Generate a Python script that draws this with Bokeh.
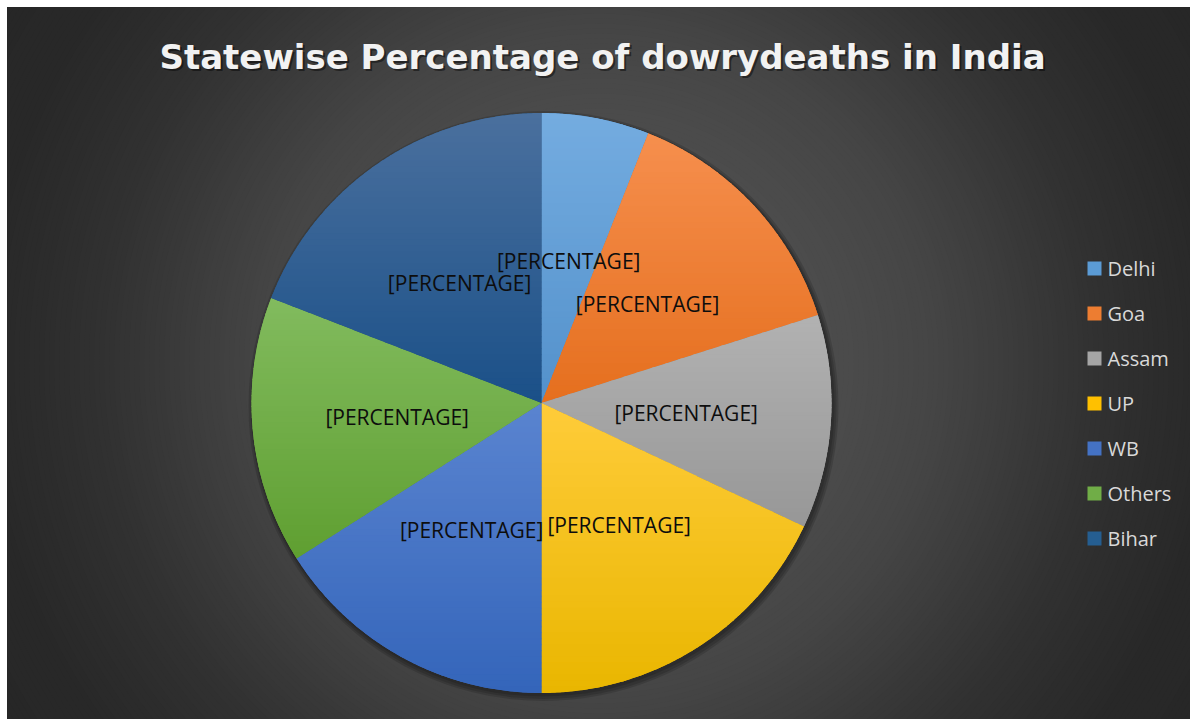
import numpy as np
from bokeh.plotting import figure
from bokeh.models import Range1d, ColumnDataSource
from bokeh.core.properties import value
from bokeh.embed import file_html
from bokeh.resources import INLINE

# ---- data -------------------------------------------------------------
title_text = "Statewise Percentage of dowrydeaths in India"
states = ["Delhi", "Goa", "Assam", "UP", "WB", "Others", "Bihar"]
shares = [6.0, 14.1, 11.9, 18.0, 16.0, 14.9, 19.1]
label_text = "[PERCENTAGE]"

# ---- styling ----------------------------------------------------------
base_colors = ["#5B9BD5", "#ED7D31", "#A5A5A5", "#FFC000", "#4472C4", "#70AD47", "#255E91"]
top_colors = ["#74ACE0", "#F68F4E", "#B2B2B2", "#FFCC3A", "#5A84D0", "#82BB5E", "#4A709E"]
bottom_colors = ["#5391CB", "#E56F1E", "#979797", "#E9B600", "#3465BA", "#5F9F31", "#1B5088"]

W, H = 1190, 719
PAD = 7
CX, CY, R = 541.0, -402.5, 290.0


def hex_to_rgb(h):
    h = h.lstrip("#")
    return np.array([int(h[i:i + 2], 16) for i in (0, 2, 4)], dtype=float)


def rgb_to_hex(c):
    c = np.clip(np.round(c), 0, 255).astype(int)
    return "#%02x%02x%02x" % tuple(c)


def clip_half(poly, y0, keep_above):
    out = []
    n = len(poly)
    for i in range(n):
        p, q = poly[i], poly[(i + 1) % n]
        in_p = p[1] >= y0 if keep_above else p[1] <= y0
        in_q = q[1] >= y0 if keep_above else q[1] <= y0
        if in_p:
            out.append(p)
        if in_p != in_q:
            t = (y0 - p[1]) / (q[1] - p[1])
            out.append((p[0] + t * (q[0] - p[0]), y0))
    return out


p = figure(width=W, height=H, output_backend="svg", toolbar_location=None,
           x_range=Range1d(PAD, W), y_range=Range1d(-H, -PAD),
           x_axis_type=None, y_axis_type=None,
           min_border_left=PAD, min_border_top=PAD,
           min_border_right=0, min_border_bottom=0)
p.grid.visible = False
p.outline_line_color = None
p.border_fill_color = "white"
p.background_fill_color = "#262626"

# ---- radial background --------------------------------------------------
gx, gy = (PAD + W) / 2.0, -(PAD + H) / 2.0
stops_d = [0, 250, 340, 500, 620, 800]
stops_v = [0x54, 0x4b, 0x45, 0x31, 0x28, 0x26]
radii = np.arange(800, 0, -5.0)
shades = [rgb_to_hex(np.array([np.interp(r, stops_d, stops_v)] * 3)) for r in radii]
bg = ColumnDataSource(dict(x=[gx] * len(radii), y=[gy] * len(radii), r=radii, c=shades))
p.circle(x="x", y="y", radius="r", fill_color="c", line_color=None, source=bg)

# ---- soft shadow under the pie -----------------------------------------
p.circle(x=[CX + 2, CX + 2, CX + 1.5], y=[CY - 3, CY - 3, CY - 2], radius=[R + 5, R + 3, R + 1.5],
         fill_color="black", fill_alpha=0.14, line_color=None)

# ---- pie slices ---------------------------------------------------------
frac = np.array(shares) / np.sum(shares)
ends = np.cumsum(frac) * 2 * np.pi      # clockwise from 12 o'clock
starts = ends - frac * 2 * np.pi

pie = ColumnDataSource(dict(state=states, color=base_colors,
                            start=np.pi / 2 - starts, end=np.pi / 2 - ends))
p.wedge(x=CX, y=CY, radius=R, start_angle="start", end_angle="end",
        direction="clock", fill_color="color", line_color=None, source=pie)

# vertical gradient over each slice
xs, ys, cs = [], [], []
N = 48
for a0, a1, ct, cb in zip(starts, ends, top_colors, bottom_colors):
    th = np.linspace(a0, a1, max(8, int(np.degrees(a1 - a0) * 3)))
    poly = [(CX, CY)] + [(CX + R * np.sin(t), CY + R * np.cos(t)) for t in th]
    ymin = min(pt[1] for pt in poly)
    ymax = max(pt[1] for pt in poly)
    h = (ymax - ymin) / N
    top, bot = hex_to_rgb(ct), hex_to_rgb(cb)
    for k in range(N):
        yh = ymax - k * h + 0.6
        yl = ymax - (k + 1) * h - 0.6
        band = clip_half(clip_half(poly, yl, True), yh, False)
        if len(band) < 3:
            continue
        t = (k + 0.5) / N
        xs.append([b[0] for b in band])
        ys.append([b[1] for b in band])
        cs.append(rgb_to_hex(top + (bot - top) * t))
p.patches(xs=xs, ys=ys, fill_color=cs, line_color=None)

# ---- data labels --------------------------------------------------------
mids = (starts + ends) / 2
lab = ColumnDataSource(dict(x=CX + 0.5 * R * np.sin(mids), y=CY + 0.5 * R * np.cos(mids),
                            t=[label_text] * len(states)))
p.text(x="x", y="y", text="t", source=lab, text_font=value("Open Sans"),
       text_font_size="21px", text_align="center", text_baseline="middle",
       text_color="#0d0d0d")

# ---- title -------------------------------------------------------------
tx, ty = 602, -56
p.text(x=[tx + 2], y=[ty - 2.5], text=[title_text], text_font=value("DejaVu Sans"),
       text_font_style="bold", text_font_size="34px", text_align="center",
       text_baseline="middle", text_color="black", text_alpha=0.45)
p.text(x=[tx], y=[ty], text=[title_text], text_font=value("DejaVu Sans"),
       text_font_style="bold", text_font_size="34px", text_align="center",
       text_baseline="middle", text_color="#f2f2f2")

# ---- legend -------------------------------------------------------------
rows = np.arange(len(states))
leg = ColumnDataSource(dict(mx=[1094] * len(states), my=-(268 + 45 * rows),
                            tx=[1107] * len(states), ty=-(267.5 + 45 * rows),
                            name=states, color=base_colors))
p.scatter(x="mx", y="my", marker="square", size=14, fill_color="color",
          line_color=None, source=leg)
p.text(x="tx", y="ty", text="name", source=leg, text_font=value("Open Sans"),
       text_font_size="20px", text_align="left", text_baseline="middle",
       text_color="#d9d9d9")

open("out.html", "w").write(file_html(p, INLINE))
